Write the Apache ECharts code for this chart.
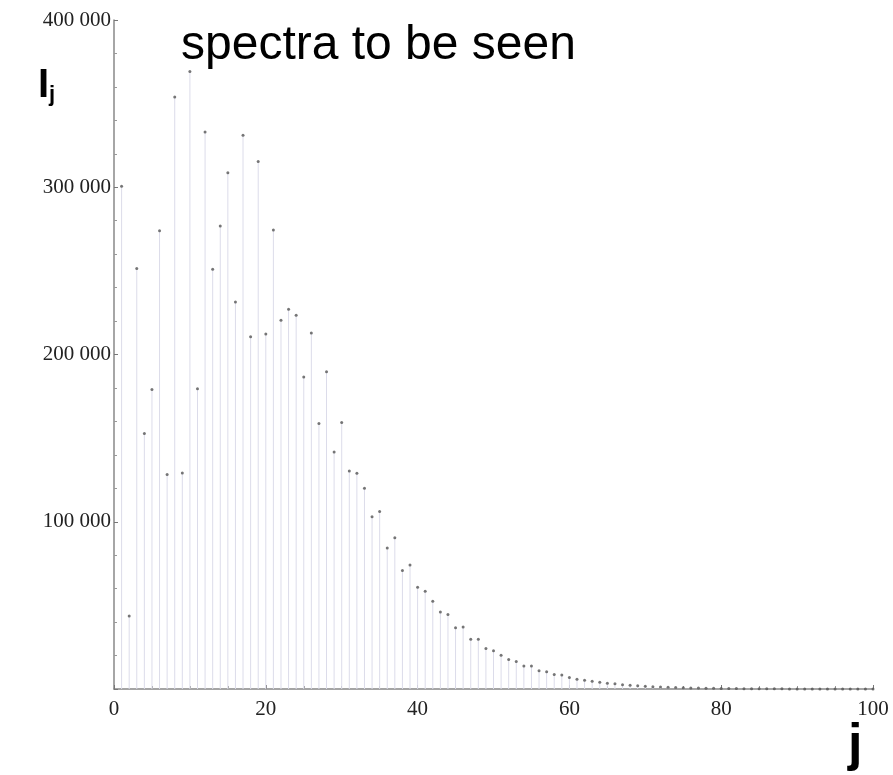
<!DOCTYPE html>
<html>
<head>
<meta charset="utf-8">
<script src="https://cdn.jsdelivr.net/npm/echarts@6/dist/echarts.min.js"></script>
<style>
  html, body { margin: 0; padding: 0; background: #fff; }
  #chart { width: 893px; height: 775px; }
</style>
</head>
<body>
<div id="chart"></div>
<script>
  // line index j
  const jValues = []
  for (let j = 1; j <= 100; j++) jValues.push(j)

  // intensity I_j
  const intensity = [
    300600, 43600, 251400, 152800, 179100, 274000, 128300, 353900, 129100, 369200,
    179500, 333000, 250900, 276800, 308600, 231400, 331100, 210600, 315400, 212200,
    274400, 220500, 227000, 223500, 186500, 212800, 158800, 189700, 141700, 159300,
    130400, 129000, 120000, 103000, 106200, 84300, 90400, 70900, 74100, 60900,
    58500, 52400, 46000, 44600, 36600, 37000, 29700, 29700, 24200, 22800,
    20200, 17700, 16500, 13700, 13700, 10900, 10300, 8700, 8300, 6900,
    5900, 5300, 4700, 4100, 3500, 3100, 2500, 2300, 2000, 1600,
    1400, 1200, 1000, 900, 750, 650, 550, 450, 400, 330,
    280, 240, 200, 170, 140, 120, 100, 80, 70, 60,
    50, 40, 35, 30, 25, 20, 18, 15, 12, 10
  ]

  const xTicks = [0, 20, 40, 60, 80, 100]
  const yTicks = [0, 100000, 200000, 300000, 400000]

  const points = jValues.map((j, i) => [j, intensity[i]])

  const fmt = v => v === 0 ? '' : String(v).replace(/\B(?=(\d{3})+(?!\d))/g, ' ')

  const chart = echarts.init(document.getElementById('chart'))
  chart.setOption({
    animation: false,
    grid: { left: 114, right: 20, top: 20, bottom: 86 },
    xAxis: {
      type: 'value',
      min: xTicks[0],
      max: xTicks[xTicks.length - 1],
      interval: 20,
      axisLine: { lineStyle: { color: '#888', width: 1.5 } },
      axisTick: { inside: true, length: 4, lineStyle: { color: '#777' } },
      minorTick: { show: true, splitNumber: 4, length: 3, lineStyle: { color: '#999' } },
      axisLabel: { color: '#222', fontFamily: 'Liberation Serif', fontSize: 21, margin: 10 },
      splitLine: { show: false }
    },
    yAxis: {
      type: 'value',
      min: yTicks[0],
      max: yTicks[yTicks.length - 1],
      interval: 100000,
      axisLine: { show: true, lineStyle: { color: '#888', width: 1.5 } },
      axisTick: { show: true, inside: true, length: 4, lineStyle: { color: '#777' } },
      minorTick: { show: true, splitNumber: 5, length: 3, lineStyle: { color: '#999' } },
      axisLabel: {
        color: '#222', fontFamily: 'Liberation Serif', fontSize: 21, margin: 3,
        formatter: fmt
      },
      splitLine: { show: false }
    },
    graphic: [
      {
        type: 'text', left: 181, top: 22,
        style: { text: 'spectra to be seen', font: '48px "Liberation Sans", Arial', fill: '#000' }
      },
      {
        type: 'text', left: 38, top: 66,
        style: {
          text: '{i|I}{s|j}',
          rich: {
            i: { font: 'bold 40px "Liberation Sans", Arial', fill: '#000' },
            s: { font: 'bold 22px "Liberation Sans", Arial', fill: '#000', padding: [18, 0, 0, 0] }
          }
        }
      },
      {
        type: 'text', left: 848, top: 720,
        style: { text: 'j', font: 'bold 52px "Liberation Sans", Arial', fill: '#000' }
      }
    ],
    series: [
      {
        type: 'bar',
        data: points,
        barWidth: 1,
        itemStyle: { color: '#dcdcea' },
        silent: true
      },
      {
        type: 'scatter',
        data: points,
        symbolSize: 3,
        itemStyle: { color: '#555' },
        silent: true
      }
    ]
  })
</script>
</body>
</html>
